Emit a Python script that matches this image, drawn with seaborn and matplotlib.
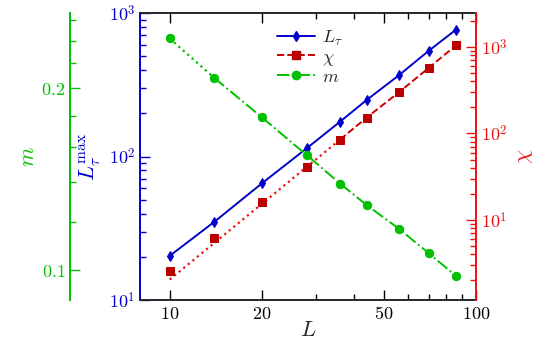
import numpy as np
import pandas as pd
import matplotlib
matplotlib.use("Agg")
import matplotlib.pyplot as plt
from matplotlib.lines import Line2D
from matplotlib.ticker import FixedLocator, FuncFormatter, NullFormatter
import seaborn as sns

# 데이터
L = [10, 14, 20, 28, 36, 44, 56, 70, 86]
L_tau = [20.3, 35.1, 65, 114, 175, 248, 368, 544, 765]
chi = [2.6, 6.15, 16.3, 41, 85, 153, 299, 571, 1043]
m = [0.242, 0.208, 0.179, 0.155, 0.139, 0.128, 0.117, 0.1066, 0.0977]

# chi 의 점선 (작은 L 구간 피팅선 끝점)
chi_fit_L = [10, 36]
chi_fit = [2.05, 85]

df = pd.DataFrame({'L': L, 'L_tau': L_tau, 'chi': chi, 'm': m})
df_fit = pd.DataFrame({'L': chi_fit_L, 'chi': chi_fit})

sns.set_style('ticks')
plt.rcParams['font.family'] = ['DejaVu Serif']
plt.rcParams['mathtext.fontset'] = 'cm'

blue = '#0000cc'
red = '#ee1111'
dark_red = '#bb0000'
green = '#00c000'

fig = plt.figure(figsize=(5.46, 3.45), dpi=100)
ax = fig.add_axes([140 / 546, 45 / 345, 336 / 546, 287 / 345])
ax_chi = ax.twinx()
ax_m = ax.twinx()

# L_tau (파란색, 실선)
sns.lineplot(data=df, x='L', y='L_tau', ax=ax, color=blue, linestyle='-', lw=1.4,
             marker='d', markersize=5.5, markeredgecolor=blue, markerfacecolor=blue)

# chi (빨간색: 점선 피팅 + 파선)
sns.lineplot(data=df_fit, x='L', y='chi', ax=ax_chi, color=red, linestyle=':', lw=1.6)
sns.lineplot(data=df[df['L'] >= 36], x='L', y='chi', ax=ax_chi, color='#cc0000',
             linestyle='--', lw=1.4)
sns.lineplot(data=df, x='L', y='chi', ax=ax_chi, color=dark_red, linestyle='none',
             marker='s', markersize=6, markeredgecolor=dark_red, markerfacecolor=dark_red)

# m (초록색: 점선 + 일점쇄선)
sns.lineplot(data=df[df['L'] <= 14], x='L', y='m', ax=ax_m, color=green, linestyle=':', lw=1.6)
sns.lineplot(data=df[df['L'] >= 14], x='L', y='m', ax=ax_m, color=green, linestyle='-.', lw=1.4)
sns.lineplot(data=df, x='L', y='m', ax=ax_m, color=green, linestyle='none',
             marker='o', markersize=6, markeredgecolor=green, markerfacecolor=green)

tick_fs = 13
mathfmt = FuncFormatter(lambda v, p: f'${v:g}$')
powfmt = FuncFormatter(lambda v, p: f'$10^{{{int(round(np.log10(v)))}}}$')

# x 축
ax.set_xscale('log')
ax.set_xlim(8, 100)
ax.xaxis.set_major_locator(FixedLocator([10, 20, 50, 100]))
ax.xaxis.set_minor_locator(FixedLocator([30, 40, 60, 70, 80, 90]))
ax.xaxis.set_major_formatter(mathfmt)
ax.xaxis.set_minor_formatter(NullFormatter())
ax.tick_params(axis='x', which='both', top=True, direction='in', colors='black',
               labelsize=tick_fs, width=1)
ax.tick_params(axis='x', which='major', length=7)
ax.tick_params(axis='x', which='minor', length=4)

# 왼쪽 y 축 (L_tau)
ax.set_yscale('log')
ax.set_ylim(10, 1000)
ax.yaxis.set_major_formatter(powfmt)
ax.tick_params(axis='y', which='both', direction='in', colors=blue, labelsize=tick_fs, width=1)
ax.tick_params(axis='y', which='major', length=7)
ax.tick_params(axis='y', which='minor', length=4)

# 오른쪽 y 축 (chi)
ax_chi.set_yscale('log')
ax_chi.set_ylim(1.19, 2470)
ax_chi.yaxis.set_major_formatter(powfmt)
ax_chi.tick_params(axis='y', which='both', direction='in', colors=red, labelsize=tick_fs, width=1)
ax_chi.tick_params(axis='y', which='major', length=7)
ax_chi.tick_params(axis='y', which='minor', length=4)

# 바깥쪽 왼쪽 y 축 (m)
ax_m.set_yscale('log')
ax_m.set_ylim(0.0891, 0.2667)
ax_m.yaxis.tick_left()
ax_m.yaxis.set_label_position('left')
ax_m.yaxis.set_major_locator(FixedLocator([0.1, 0.2]))
ax_m.yaxis.set_minor_locator(FixedLocator([0.12, 0.14, 0.16, 0.18, 0.22, 0.24, 0.26]))
ax_m.yaxis.set_major_formatter(mathfmt)
ax_m.yaxis.set_minor_formatter(NullFormatter())
ax_m.tick_params(axis='y', which='both', direction='in', colors=green, labelsize=tick_fs, width=1)
ax_m.tick_params(axis='y', which='major', length=7)
ax_m.tick_params(axis='y', which='minor', length=4)

# 축선 색/위치
for s in ['top', 'bottom', 'left', 'right']:
    ax.spines[s].set_linewidth(1.4)
ax.spines['left'].set_color(blue)
ax.spines['right'].set_visible(False)
for s in ['top', 'bottom', 'left']:
    ax_chi.spines[s].set_visible(False)
ax_chi.spines['right'].set_color(red)
ax_chi.spines['right'].set_linewidth(1.4)
for s in ['top', 'bottom', 'right']:
    ax_m.spines[s].set_visible(False)
ax_m.spines['left'].set_position(('axes', -70 / 336))
ax_m.spines['left'].set_color(green)
ax_m.spines['left'].set_linewidth(1.4)

# 축 이름
ax.set_xlabel('$L$', fontsize=16)
ax.xaxis.set_label_coords(0.5, -0.065)
ax.set_ylabel(r'$L_\tau^{\max}$', color=blue, fontsize=16)
ax.yaxis.set_label_coords(-0.11, 0.5)
ax_chi.set_ylabel(r'$\chi$', color=red, fontsize=16)
ax_chi.yaxis.set_label_coords(1.11, 0.5)
ax_m.set_ylabel('$m$', color=green, fontsize=16)
ax_m.yaxis.set_label_coords(-0.30, 0.5)

# 범례
handles = [
    Line2D([], [], color=blue, linestyle='-', lw=1.4, marker='d', markersize=5.5),
    Line2D([], [], color='#cc0000', linestyle='--', lw=1.4, marker='s', markersize=6,
           markerfacecolor=dark_red, markeredgecolor=dark_red),
    Line2D([], [], color=green, linestyle='-.', lw=1.4, marker='o', markersize=6),
]
ax_m.legend(handles, [r'$L_\tau$', r'$\chi$', r'$m$'], loc='upper left',
            bbox_to_anchor=(0.37, 0.99), frameon=False, fontsize=13,
            handlelength=2.1, labelspacing=0.0, borderpad=0.2, handletextpad=0.4)

fig.savefig('out.png', dpi=100)
